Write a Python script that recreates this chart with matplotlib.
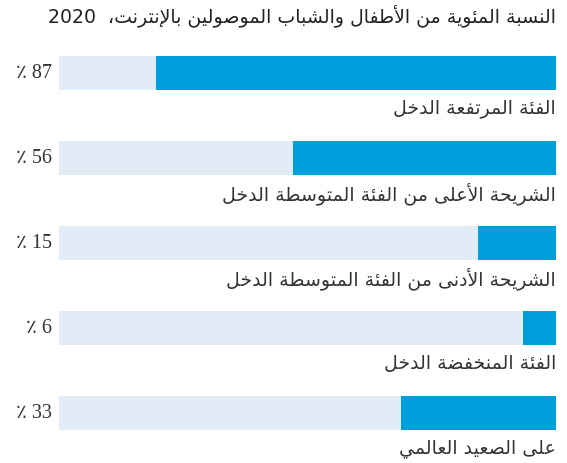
import matplotlib.pyplot as plt

# Data
groups = ["الفئة المرتفعة الدخل",
          "الشريحة الأعلى من الفئة المتوسطة الدخل",
          "الشريحة الأدنى من الفئة المتوسطة الدخل",
          "الفئة المنخفضة الدخل",
          "على الصعيد العالمي"]
pct_labels = ["87", "56", "15", "6", "33"]
# bar lengths as drawn in the reference (percent of full track)
bar_values = [80.5, 53, 15.7, 6.6, 31.2]
title_ar = "النسبة المئوية من الأطفال والشباب الموصولين بالإنترنت،"
title_year = "2020"

BLUE = "#009edb"
TRACK = "#e1ecf7"
INK = "#333333"

# Minimal Arabic shaping (matplotlib has no bidi / joining support)
# letter: (isolated, final, initial, medial) ; None for right-joining letters
FORMS = {
    "ا": (0xFE8D, 0xFE8E, None, None), "أ": (0xFE83, 0xFE84, None, None),
    "إ": (0xFE87, 0xFE88, None, None), "آ": (0xFE81, 0xFE82, None, None),
    "ب": (0xFE8F, 0xFE90, 0xFE91, 0xFE92), "ة": (0xFE93, 0xFE94, None, None),
    "ت": (0xFE95, 0xFE96, 0xFE97, 0xFE98), "ث": (0xFE99, 0xFE9A, 0xFE9B, 0xFE9C),
    "ج": (0xFE9D, 0xFE9E, 0xFE9F, 0xFEA0), "ح": (0xFEA1, 0xFEA2, 0xFEA3, 0xFEA4),
    "خ": (0xFEA5, 0xFEA6, 0xFEA7, 0xFEA8), "د": (0xFEA9, 0xFEAA, None, None),
    "ذ": (0xFEAB, 0xFEAC, None, None), "ر": (0xFEAD, 0xFEAE, None, None),
    "ز": (0xFEAF, 0xFEB0, None, None), "س": (0xFEB1, 0xFEB2, 0xFEB3, 0xFEB4),
    "ش": (0xFEB5, 0xFEB6, 0xFEB7, 0xFEB8), "ص": (0xFEB9, 0xFEBA, 0xFEBB, 0xFEBC),
    "ض": (0xFEBD, 0xFEBE, 0xFEBF, 0xFEC0), "ط": (0xFEC1, 0xFEC2, 0xFEC3, 0xFEC4),
    "ظ": (0xFEC5, 0xFEC6, 0xFEC7, 0xFEC8), "ع": (0xFEC9, 0xFECA, 0xFECB, 0xFECC),
    "غ": (0xFECD, 0xFECE, 0xFECF, 0xFED0), "ف": (0xFED1, 0xFED2, 0xFED3, 0xFED4),
    "ق": (0xFED5, 0xFED6, 0xFED7, 0xFED8), "ك": (0xFED9, 0xFEDA, 0xFEDB, 0xFEDC),
    "ل": (0xFEDD, 0xFEDE, 0xFEDF, 0xFEE0), "م": (0xFEE1, 0xFEE2, 0xFEE3, 0xFEE4),
    "ن": (0xFEE5, 0xFEE6, 0xFEE7, 0xFEE8), "ه": (0xFEE9, 0xFEEA, 0xFEEB, 0xFEEC),
    "و": (0xFEED, 0xFEEE, None, None), "ى": (0xFEEF, 0xFEF0, None, None),
    "ي": (0xFEF1, 0xFEF2, 0xFEF3, 0xFEF4), "ئ": (0xFE89, 0xFE8A, 0xFE8B, 0xFE8C),
    "ؤ": (0xFE85, 0xFE86, None, None),
}
LAM_ALEF = {"ا": (0xFEFB, 0xFEFC), "أ": (0xFEF7, 0xFEF8),
            "إ": (0xFEF9, 0xFEFA), "آ": (0xFEF5, 0xFEF6)}


def dual(ch):
    return ch in FORMS and FORMS[ch][2] is not None


def shape(text):
    out = []
    i = 0
    n = len(text)
    while i < n:
        ch = text[i]
        prev = text[i - 1] if i > 0 else ""
        if ch == "ل" and i + 1 < n and text[i + 1] in LAM_ALEF:
            iso, fin = LAM_ALEF[text[i + 1]]
            out.append(chr(fin if dual(prev) else iso))
            i += 2
            continue
        if ch not in FORMS:
            out.append(ch)
            i += 1
            continue
        nxt = text[i + 1] if i + 1 < n else ""
        iso, fin, ini, med = FORMS[ch]
        jp = dual(prev)
        jn = ini is not None and nxt in FORMS
        if jp and jn:
            out.append(chr(med))
        elif jp:
            out.append(chr(fin))
        elif jn:
            out.append(chr(ini))
        else:
            out.append(chr(iso))
        i += 1
    return "".join(reversed(out))


fig = plt.figure(figsize=(5.67, 4.64), dpi=100)
W, H = 567, 464
# axes in pixel terms: track from x=59 to 556, five rows of 85 px from y=31
ax = fig.add_axes([59 / W, 1 - 456 / H, (556 - 59) / W, 425 / H])

ypos = list(range(len(groups)))
ax.barh(ypos, [100] * len(groups), height=0.4, color=TRACK)
ax.barh(ypos, bar_values, height=0.4, color=BLUE)
ax.set_xlim(100, 0)
ax.set_ylim(len(groups) - 0.5, -0.5)
ax.axis("off")

for y, name, lab in zip(ypos, groups, pct_labels):
    ax.text(0, y + 0.41, shape(name), ha="right", va="center",
            fontsize=13.6, color=INK, family="DejaVu Sans")
    ax.annotate("٪ " + lab, (100, y), xytext=(-5, 0), textcoords="offset points",
                ha="right", va="center", fontsize=14.5, color=INK,
                family=["Liberation Serif", "DejaVu Sans"])

fig.text(556 / W, 1 - 16 / H, title_year + "  " + shape(title_ar),
         ha="right", va="center", fontsize=13.6, color="#222222",
         family="DejaVu Sans")

fig.savefig("out.png", dpi=100)
